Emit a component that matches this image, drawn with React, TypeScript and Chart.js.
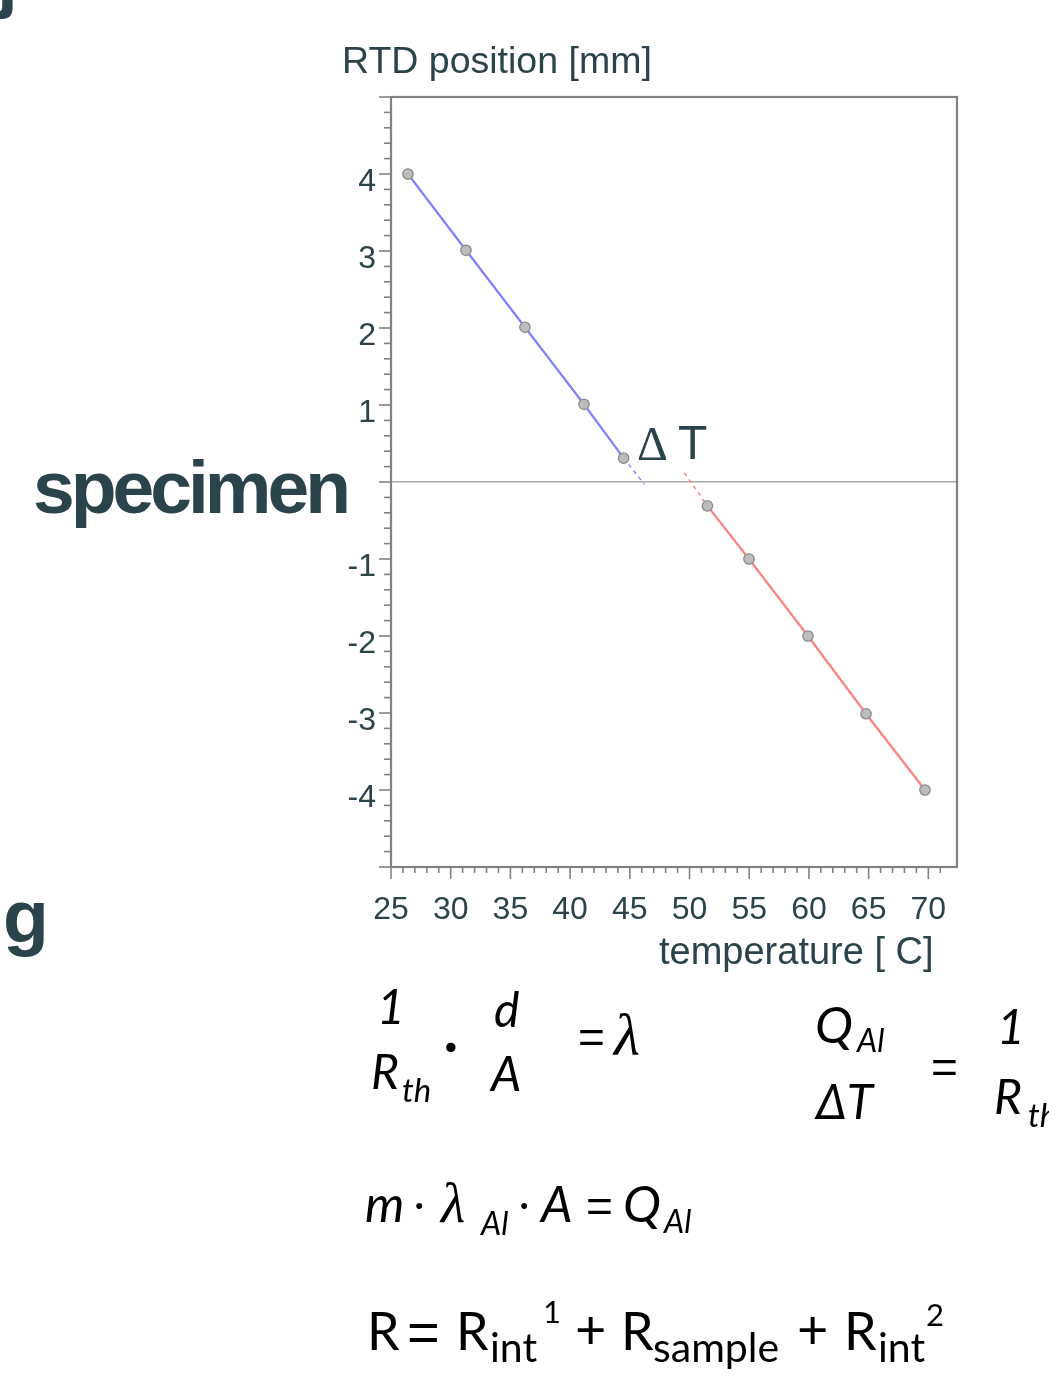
import React, { useEffect, useRef } from 'react';
import { Chart, registerables } from 'chart.js';
Chart.register(...registerables);

// ---- data ----
const blueTemps = [26.42, 31.28, 36.22, 41.16, 44.48];
const bluePos = [4.0, 3.01, 2.01, 1.01, 0.31];
const redTemps = [51.5, 54.98, 59.92, 64.78, 69.72];
const redPos = [-0.31, -1.0, -2.0, -3.01, -4.0];
const blueExtTemps = [44.48, 46.22];
const blueExtPos = [0.31, -0.03];
const redExtTemps = [49.56, 51.5];
const redExtPos = [0.12, -0.31];
const xTickLabels = ['25', '30', '35', '40', '45', '50', '55', '60', '65', '70'];
const yTickLabels = ['-4', '-3', '-2', '-1', '1', '2', '3', '4'];

const TEXT = '#2b434a';
const AXIS = '#828282';
const SANS = "'Liberation Sans', Arial, sans-serif";
const LATO = "Lato, 'Open Sans', sans-serif";
const SERIF = "'Liberation Serif', 'Times New Roman', serif";

const K: Record<string, number> = { sans: 0.8465, lato: 0.887, serif: 0.8375 };
const FAM: Record<string, string> = { sans: SANS, lato: LATO, serif: SERIF };

function T(props: {
  x: number; b: number; s: number; f?: string; it?: boolean; bold?: boolean;
  color?: string; ls?: number; children: React.ReactNode;
}) {
  const f = props.f || 'lato';
  return (
    <div
      style={{
        position: 'absolute',
        left: props.x,
        top: props.b - K[f] * props.s,
        fontSize: props.s,
        lineHeight: 1,
        fontFamily: FAM[f],
        fontStyle: props.it ? 'italic' : 'normal',
        fontWeight: props.bold ? 700 : 400,
        color: props.color || '#000',
        letterSpacing: props.ls ? props.ls : 'normal',
        whiteSpace: 'nowrap',
      }}
    >
      {props.children}
    </div>
  );
}

const near = (v: number, t: number) => Math.abs(v - t) < 1e-6;

const ticksPlugin = {
  id: 'boxTicks',
  afterDraw(chart: any) {
    const ctx = chart.ctx;
    const { left, right, top, bottom } = chart.chartArea;
    const xs = chart.scales.x;
    const ys = chart.scales.y;
    ctx.save();
    ctx.strokeStyle = AXIS;
    ctx.lineWidth = 1.6;
    ys.ticks.forEach((t: any) => {
      const p = ys.getPixelForValue(t.value);
      const major = near(t.value, Math.round(t.value));
      const len = major ? 12 : 7;
      ctx.beginPath();
      ctx.moveTo(left - len, p);
      ctx.lineTo(left, p);
      ctx.stroke();
    });
    xs.ticks.forEach((t: any) => {
      const p = xs.getPixelForValue(t.value);
      const major = near(t.value % 5, 0);
      const len = major ? 12 : 6;
      ctx.beginPath();
      ctx.moveTo(p, bottom);
      ctx.lineTo(p, bottom + len);
      ctx.stroke();
    });
    ctx.lineWidth = 2.2;
    ctx.strokeRect(left, top, right - left, bottom - top);
    ctx.restore();
  },
};

function ChartCanvas() {
  const ref = useRef<HTMLCanvasElement | null>(null);
  useEffect(() => {
    if (!ref.current) return;
    const pt = (xs: number[], ys: number[]) => xs.map((x, i) => ({ x, y: ys[i] }));
    const mainStyle = {
      borderWidth: 2.2,
      pointRadius: 5.2,
      pointBackgroundColor: '#bcbcbc',
      pointBorderColor: '#8a8a8a',
      pointBorderWidth: 1.3,
      showLine: true,
      tension: 0,
    };
    const chart = new Chart(ref.current, {
      type: 'scatter',
      data: {
        datasets: [
          { data: pt(blueTemps, bluePos), borderColor: '#8080ff', ...mainStyle, order: 0 },
          { data: pt(redTemps, redPos), borderColor: '#ff8080', ...mainStyle, order: 0 },
          { data: pt(blueExtTemps, blueExtPos), borderColor: '#8080ff', borderWidth: 1.4, borderDash: [4, 4], pointRadius: 0, showLine: true, order: 1 },
          { data: pt(redExtTemps, redExtPos), borderColor: '#ff8080', borderWidth: 1.4, borderDash: [4, 4], pointRadius: 0, showLine: true, order: 1 },
        ],
      },
      options: {
        animation: false,
        responsive: false,
        devicePixelRatio: 1,
        layout: { padding: { left: 311, top: 97, right: 92, bottom: 449 } },
        plugins: { legend: { display: false }, tooltip: { enabled: false } },
        scales: {
          x: {
            type: 'linear',
            min: 25,
            max: 72.4,
            afterBuildTicks: (s: any) => {
              s.ticks = s.ticks.filter((t: any) => near(t.value, Math.round(t.value))).map((t: any) => ({ value: Math.round(t.value) }));
            },
            afterFit: (s: any) => { s.height = 60; },
            ticks: {
              stepSize: 1,
              autoSkip: false,
              maxRotation: 0,
              padding: 24,
              color: TEXT,
              font: { family: SANS, size: 32 },
              callback: (v: any) => {
                const s = String(Math.round(Number(v)));
                return xTickLabels.includes(s) && near(Number(v), Math.round(Number(v))) ? s : '';
              },
            },
            grid: { display: false, drawTicks: false },
            border: { display: false },
          },
          y: {
            type: 'linear',
            min: -5,
            max: 5,
            afterBuildTicks: (s: any) => {
              s.ticks = s.ticks.map((t: any) => ({ value: Math.round(t.value * 10) / 10 }));
            },
            afterFit: (s: any) => { s.width = 80; },
            ticks: {
              stepSize: 0.2,
              autoSkip: false,
              padding: 15,
              labelOffset: 8,
              color: TEXT,
              font: { family: SANS, size: 32 },
              callback: (v: any) => {
                const n = Number(v);
                if (!near(n, Math.round(n))) return '';
                const s = String(Math.round(n));
                return yTickLabels.includes(s) ? s : '';
              },
            },
            grid: {
              drawOnChartArea: true,
              drawTicks: false,
              lineWidth: 1.5,
              color: (c: any) => (c.tick && near(c.tick.value, 0) ? '#a8a8a8' : 'rgba(0,0,0,0)'),
            },
            border: { display: false },
          },
        },
      },
      plugins: [ticksPlugin],
    } as any);
    return () => chart.destroy();
  }, []);
  return <canvas ref={ref} width={1049} height={1376} style={{ position: 'absolute', left: 0, top: 0, width: 1049, height: 1376 }} />;
}

export default function App() {
  return (
    <div style={{ position: 'absolute', left: 0, top: 0, width: 1049, height: 1376, overflow: 'hidden', background: '#fff' }}>
      <ChartCanvas />
      {/* side labels */}
      <T x={-3} b={4} s={75} f="sans" bold color={TEXT}>j</T>
      <T x={33} b={513} s={75} f="sans" bold color={TEXT} ls={-4}>specimen</T>
      <T x={3} b={942} s={75} f="sans" bold color={TEXT}>g</T>
      {/* axis titles */}
      <T x={342} b={74} s={37.5} f="sans" color={TEXT}>RTD position [mm]</T>
      <T x={659} b={964} s={38} f="sans" color={TEXT}>temperature [ C]</T>
      <T x={637} b={460} s={48} f="serif" color={TEXT}>Δ</T>
      <T x={678} b={460} s={48} f="sans" color={TEXT}>T</T>
      {/* formula 1 */}
      <T x={377} b={1025} s={48} it>1</T>
      <T x={371} b={1090} s={48} it>R</T>
      <T x={402} b={1102} s={33} it>th</T>
      <T x={444} b={1062} s={50} bold>·</T>
      <T x={494} b={1028} s={48} it>d</T>
      <T x={491} b={1092} s={48} it>A</T>
      <T x={578} b={1053} s={46} f="sans">=</T>
      <T x={614} b={1055} s={60} f="serif" it>λ</T>
      {/* formula 2 */}
      <T x={815} b={1043} s={51} it>Q</T>
      <T x={857} b={1052} s={32} it>Al</T>
      <T x={816} b={1120} s={48} it>ΔT</T>
      <T x={931} b={1083} s={46} f="sans">=</T>
      <T x={997} b={1045} s={48} it>1</T>
      <T x={994} b={1115} s={48} it>R</T>
      <T x={1028} b={1127} s={33} it>th</T>
      {/* formula 3 */}
      <T x={365} b={1222} s={50} it>m</T>
      <T x={414} b={1218} s={40}>·</T>
      <T x={441} b={1222} s={56} f="serif" it>λ</T>
      <T x={481} b={1235} s={32} it>Al</T>
      <T x={519} b={1218} s={40}>·</T>
      <T x={541} b={1222} s={50} it>A</T>
      <T x={586} b={1222} s={46} f="sans">=</T>
      <T x={623} b={1222} s={51} it>Q</T>
      <T x={664} b={1233} s={32} it>Al</T>
      {/* formula 4 */}
      <T x={367} b={1350} s={52}>R</T>
      <T x={407} b={1351} s={56} f="sans">=</T>
      <T x={456} b={1350} s={52}>R</T>
      <T x={490} b={1362} s={41}>int</T>
      <T x={543} b={1323} s={31}>1</T>
      <T x={575} b={1350} s={54}>+</T>
      <T x={621} b={1350} s={52}>R</T>
      <T x={653} b={1362} s={41}>sample</T>
      <T x={797} b={1350} s={54}>+</T>
      <T x={844} b={1350} s={52}>R</T>
      <T x={878} b={1362} s={41}>int</T>
      <T x={926} b={1326} s={31}>2</T>
    </div>
  );
}
